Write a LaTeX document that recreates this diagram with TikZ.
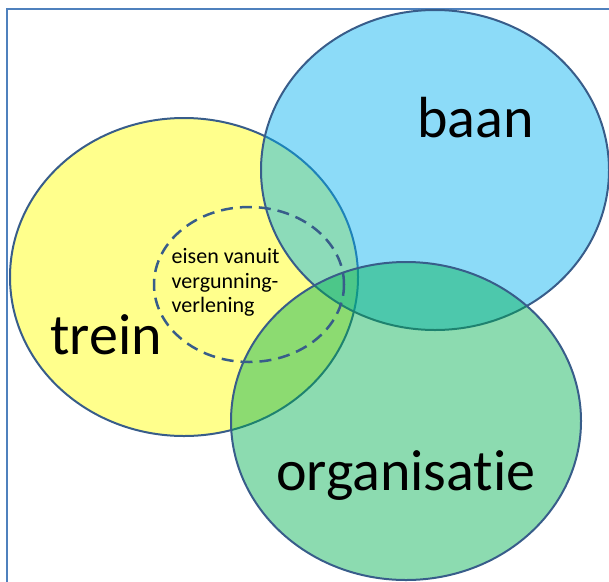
\documentclass[tikz,border=0pt]{standalone}
\usepackage{fontspec}
\setmainfont{Carlito}[Ligatures=NoCommon]
\usetikzlibrary{shapes.geometric}
\definecolor{framecol}{HTML}{4F81BD}
\definecolor{edgecol}{HTML}{385D8A}
\definecolor{ycol}{HTML}{FFFF00}
\definecolor{bcol}{HTML}{00B0F0}
\definecolor{gcol}{HTML}{00B050}
\tikzset{
  setbox/.style={ellipse, draw=edgecol, line width=2pt, fill opacity=0.45, draw opacity=1, inner sep=0pt},
  biglabel/.style={anchor=base west, inner sep=0pt, font=\fontsize{58}{62}\selectfont},
  smalllabel/.style={anchor=base west, inner sep=0pt, font=\fontsize{22}{25}\selectfont},
}
\begin{document}
\begin{tikzpicture}[x=1pt, y=-1pt]
\useasboundingbox (0,0) rectangle (609,581);
\clip (0,0) rectangle (609,581);
\draw[framecol, line width=2.2pt] (7,9) rectangle (640,620);
\node[setbox, fill=ycol, minimum width=348pt, minimum height=318pt] (trein) at (184,277) {};
\node[setbox, fill=bcol, minimum width=348pt, minimum height=320pt] (baan) at (435,170) {};
\node[setbox, fill=gcol, minimum width=350pt, minimum height=318pt] (org) at (406,421) {};
\node[ellipse, draw=edgecol, line width=2.5pt, dash pattern=on 12pt off 7pt, minimum width=190pt, minimum height=155pt, inner sep=0pt] (eisen) at (249,284.5) {};
\node[biglabel] (treinlabel) at (50,354) {trein};
\node[biglabel] (baanlabel) at (417,137) {baan};
\node[biglabel] (orglabel) at (276,490) {organisatie};
\node[smalllabel] (eisen1) at (171.5,263) {eisen vanuit};
\node[smalllabel] (eisen2) at (171.5,288) {vergunning-};
\node[smalllabel] (eisen3) at (171.5,312.5) {verlening};
\end{tikzpicture}
\end{document}
